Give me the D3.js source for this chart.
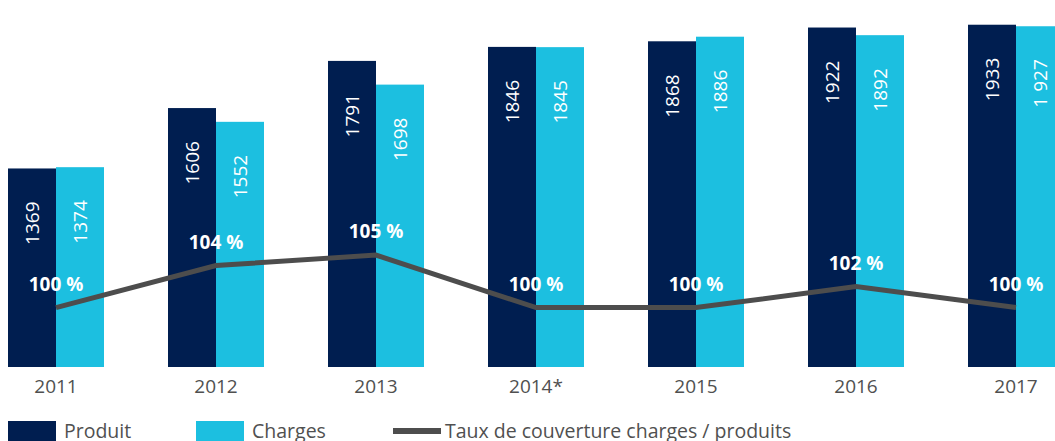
<!DOCTYPE html>
<html>
<head>
<meta charset="utf-8">
<script src="https://cdn.jsdelivr.net/npm/d3@7"></script>
<style>
    html, body { margin: 0; padding: 0; background: #fff; }
    svg { display: block; font-family: "Open Sans", sans-serif; }
</style>
</head>
<body>
<svg id="chart" width="1055" height="441"></svg>
<script>
// Data
const years = ["2011", "2012", "2013", "2014*", "2015", "2016", "2017"];
const produit = [1369, 1606, 1791, 1846, 1868, 1922, 1933];
const charges = [1374, 1552, 1698, 1845, 1886, 1892, 1927];
const chargesLabels = ["1374", "1552", "1698", "1845", "1886", "1892", "1 927"];
const taux = [100, 104, 105, 100, 100, 102, 100];
const series = ["Produit", "Charges"];
const legendLabels = ["Produit", "Charges", "Taux de couverture charges / produits"];

const colors = { Produit: "#001e50", Charges: "#1cbfe0", line: "#4d4d4d" };

const svg = d3.select("#chart");
const baseline = 367;

// Scales
const x = d3.scaleBand()
    .domain(years)
    .range([8, 1064])
    .paddingInner(0.4)
    .paddingOuter(0);

const xs = d3.scaleBand()
    .domain(series)
    .range([0, x.bandwidth()]);

const y = d3.scaleLinear()
    .domain([590, 2030])
    .range([baseline, 0]);

const yTaux = d3.scaleLinear()
    .domain([94.34, 129.3])
    .range([baseline, 0]);

const rows = years.map((yr, i) => ({
    year: yr,
    Produit: produit[i],
    Charges: charges[i],
    labels: { Produit: String(produit[i]), Charges: chargesLabels[i] },
    taux: taux[i]
}));

// Bars
const groups = svg.append("g")
    .selectAll("g.year")
    .data(rows)
    .join("g")
        .classed("year", true)
        .attr("transform", d => `translate(${x(d.year)},0)`);

groups.selectAll("rect")
    .data(d => series.map(s => ({ key: s, value: d[s], label: d.labels[s] })))
    .join("rect")
        .attr("x", d => xs(d.key))
        .attr("y", d => y(d.value))
        .attr("width", xs.bandwidth())
        .attr("height", d => baseline - y(d.value))
        .attr("fill", d => colors[d.key]);

// Rotated value labels inside bars
groups.selectAll("text.value")
    .data(d => series.map(s => ({ key: s, value: d[s], label: d.labels[s] })))
    .join("text")
        .classed("value", true)
        .attr("transform", d => `translate(${xs(d.key) + xs.bandwidth() / 2},${y(d.value) + 33}) rotate(-90)`)
        .attr("text-anchor", "end")
        .attr("dy", "0.36em")
        .attr("fill", "#fff")
        .style("font-size", "19px")
        .text(d => d.label);

// X axis labels
svg.append("g")
    .selectAll("text")
    .data(years)
    .join("text")
        .attr("x", d => x(d) + x.bandwidth() / 2)
        .attr("y", 393)
        .attr("text-anchor", "middle")
        .attr("fill", "#505050")
        .style("font-size", "19px")
        .text(d => d);

// Coverage line
const line = d3.line()
    .x(d => x(d.year) + x.bandwidth() / 2)
    .y(d => yTaux(d.taux));

svg.append("path")
    .datum(rows)
    .attr("d", line)
    .attr("fill", "none")
    .attr("stroke", colors.line)
    .attr("stroke-width", 5);

svg.append("g")
    .selectAll("text")
    .data(rows)
    .join("text")
        .attr("x", d => x(d.year) + x.bandwidth() / 2)
        .attr("y", d => yTaux(d.taux) - 17)
        .attr("text-anchor", "middle")
        .attr("fill", "#fff")
        .style("font-size", "19px")
        .style("font-weight", "bold")
        .text(d => `${d.taux} %`);

// Legend
const legendX = [8, 196, 393];
const legend = svg.append("g")
    .selectAll("g")
    .data(legendLabels)
    .join("g")
        .attr("transform", (d, i) => `translate(${legendX[i]},421)`);

legend.filter((d, i) => i < 2)
    .append("rect")
        .attr("width", 48)
        .attr("height", 22)
        .attr("fill", (d, i) => colors[series[i]]);

legend.filter((d, i) => i === 2)
    .append("rect")
        .attr("y", 7)
        .attr("width", 48)
        .attr("height", 6)
        .attr("fill", colors.line);

legend.append("text")
    .attr("x", (d, i) => i === 2 ? 52 : 56)
    .attr("y", 17)
    .attr("fill", "#505050")
    .style("font-size", "19.5px")
    .text(d => d);
</script>
</body>
</html>
